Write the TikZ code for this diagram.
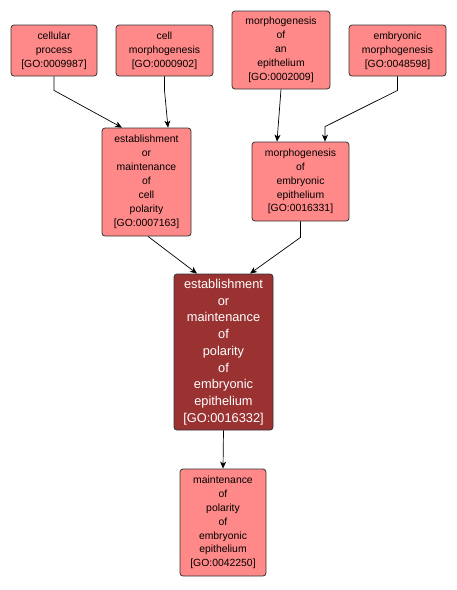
\documentclass[tikz,border=0pt]{standalone}
\usepackage{fontspec}
\setmainfont{Liberation Sans}
\usepackage{tikz}
\usetikzlibrary{positioning, arrows.meta}

\definecolor{termfill}{RGB}{255,137,137}
\definecolor{focusfill}{RGB}{155,50,50}

\begin{document}
\begin{tikzpicture}[x=1pt, y=-1pt, thick, >={Stealth[length=7pt, width=6pt, inset=2pt]},
  term/.style = {draw=black!80, line width=0.8pt, rounded corners=3pt, fill=termfill, align=center, inner sep=0pt, font=\fontsize{10.4}{13.9}\selectfont},
  focus/.style = {term, fill=focusfill, text=white, font=\fontsize{12.8}{16.7}\selectfont}]
\useasboundingbox (0,0) rectangle (457,590);

\node[term, minimum width=86pt, minimum height=51pt] (cp) at (54,50.5) {cellular\\process\\{[GO:0009987]}};
\node[term, minimum width=97pt, minimum height=51pt] (cm) at (164.5,50.5) {cell\\morphogenesis\\{[GO:0000902]}};
\node[term, minimum width=98pt, minimum height=78pt] (mae) at (281,50) {morphogenesis\\of\\an\\epithelium\\{[GO:0002009]}};
\node[term, minimum width=97pt, minimum height=51pt] (em) at (397.5,50.5) {embryonic\\morphogenesis\\{[GO:0048598]}};
\node[term, minimum width=89pt, minimum height=108pt] (ecp) at (146.5,182) {establishment\\or\\maintenance\\of\\cell\\polarity\\{[GO:0007163]}};
\node[term, minimum width=97pt, minimum height=79pt] (mee) at (300.5,181.5) {morphogenesis\\of\\embryonic\\epithelium\\{[GO:0016331]}};
\node[focus, minimum width=99pt, minimum height=156pt] (emp) at (223.5,352) {establishment\\or\\maintenance\\of\\polarity\\of\\embryonic\\epithelium\\{[GO:0016332]}};
\node[term, minimum width=86pt, minimum height=107pt] (mpe) at (223,522.5) {maintenance\\of\\polarity\\of\\embryonic\\epithelium\\{[GO:0042250]}};

\draw[->, line width=0.7pt] (cp.south) -- ++(0,14) -- ([xshift=-24.5pt]ecp.north);
\draw[->, line width=0.7pt] (cm.south) -- ++(0,14) -- ([xshift=21.5pt]ecp.north);
\draw[->, line width=0.7pt] (mae.south) -- ([xshift=-23.5pt]mee.north);
\draw[->, line width=0.7pt] (em.south) -- ++(0,14) -- ([xshift=24.5pt, yshift=15pt]mee.north) -- ([xshift=24.5pt]mee.north);
\draw[->, line width=0.7pt] ([xshift=1.5pt]ecp.south) -- ([xshift=-26.5pt]emp.north);
\draw[->, line width=0.7pt] (mee.south) -- ++(0,16) -- ([xshift=26.5pt]emp.north);
\draw[->, line width=0.7pt] (emp.south) -- (mpe.north);
\end{tikzpicture}
\end{document}
